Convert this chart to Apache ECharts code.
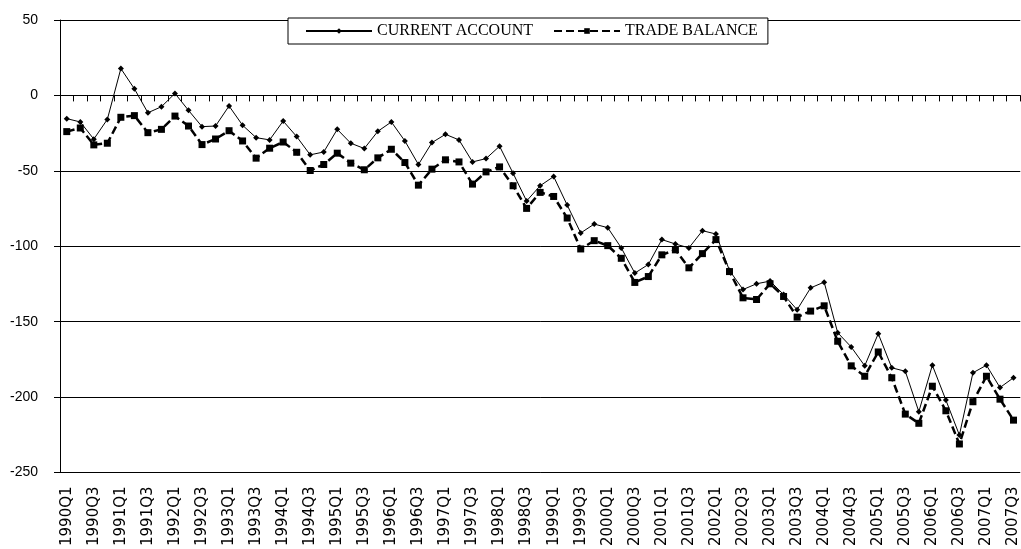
<!DOCTYPE html>
<html>
<head>
<meta charset="utf-8">
<script src="https://cdn.jsdelivr.net/npm/echarts@6/dist/echarts.min.js"></script>
<style>
  html, body { margin: 0; padding: 0; background: #fff; }
  #myChart { width: 1021px; height: 549px; }
</style>
</head>
<body>
<div id="myChart"></div>
<script>
var quarters = [
  '1990Q1','1990Q2','1990Q3','1990Q4','1991Q1','1991Q2','1991Q3','1991Q4',
  '1992Q1','1992Q2','1992Q3','1992Q4','1993Q1','1993Q2','1993Q3','1993Q4',
  '1994Q1','1994Q2','1994Q3','1994Q4','1995Q1','1995Q2','1995Q3','1995Q4',
  '1996Q1','1996Q2','1996Q3','1996Q4','1997Q1','1997Q2','1997Q3','1997Q4',
  '1998Q1','1998Q2','1998Q3','1998Q4','1999Q1','1999Q2','1999Q3','1999Q4',
  '2000Q1','2000Q2','2000Q3','2000Q4','2001Q1','2001Q2','2001Q3','2001Q4',
  '2002Q1','2002Q2','2002Q3','2002Q4','2003Q1','2003Q2','2003Q3','2003Q4',
  '2004Q1','2004Q2','2004Q3','2004Q4','2005Q1','2005Q2','2005Q3','2005Q4',
  '2006Q1','2006Q2','2006Q3','2006Q4','2007Q1','2007Q2','2007Q3'
]

var currentAccount = [
  -15.4, -17.6, -29, -15.9, 17.8, 4.4, -11.5, -7.5, 1.3, -9.9, -20.7, -20.3,
  -7, -19.8, -28, -29.5, -17, -27.3, -39.4, -37.5, -22.5, -31.7, -35.2, -23.8,
  -17.6, -30.2, -45.8, -31.3, -25.8, -29.5, -44.1, -41.9, -33.7, -51.6, -70, -59.9,
  -53.8, -72.7, -91.2, -85.3, -87.7, -101.1, -117.8, -112.1, -95.6, -98.5, -101.1, -89.7,
  -91.9, -116.1, -128.7, -124.9, -123.1, -132, -142.1, -127.6, -123.8, -157.3, -166.8, -179.3,
  -158, -180.6, -182.9, -209.7, -178.9, -202, -225.2, -183.9, -178.9, -193.7, -187.2
]

var tradeBalance = [
  -24, -21.6, -32.8, -31.7, -14.5, -13.4, -24.7, -22.5, -13.7, -20.3, -32.6, -28.9,
  -23.4, -30.2, -41.6, -35, -30.9, -37.7, -49.8, -45.8, -38.3, -44.9, -49.3, -41.4,
  -35.7, -44.5, -59.5, -48.9, -42.7, -44.1, -58.8, -50.7, -47.4, -59.9, -74.9, -64.3,
  -67, -81.3, -101.8, -96.3, -99.6, -108, -124, -120.1, -105.7, -102.4, -114.3, -104.9,
  -95.6, -116.8, -134.2, -135.3, -124.9, -133.3, -147, -143, -139.5, -163, -179.3, -186.2,
  -170.1, -187.2, -211.3, -217.4, -192.8, -209.1, -231.1, -203.1, -186.2, -201.4, -215.3
]

var yMin = -250, yMax = 50, yStep = 50

var myChart = echarts.init(document.getElementById('myChart'))
var option = {
  animation: false,
  backgroundColor: '#fff',
  grid: { left: 60, right: 0, top: 20, bottom: 74 },
  legend: {
    left: 288,
    top: 18,
    padding: [5, 10, 5, 17],
    itemWidth: 66,
    itemHeight: 7,
    itemGap: 20,
    backgroundColor: '#fff',
    borderColor: '#000',
    borderWidth: 1,
    textStyle: { fontFamily: 'Liberation Serif', fontSize: 16, color: '#000' },
    data: ['CURRENT ACCOUNT', 'TRADE BALANCE']
  },
  xAxis: [
    {
      // the line with small ticks sitting on zero
      type: 'category',
      data: quarters,
      boundaryGap: true,
      position: 'bottom',
      axisLine: { show: true, onZero: true, lineStyle: { color: '#000', width: 1 } },
      axisTick: { show: true, interval: 0, length: 6, lineStyle: { color: '#000', width: 1 } },
      axisLabel: { show: false }
    },
    {
      // labels along the bottom
      type: 'category',
      data: quarters,
      boundaryGap: true,
      position: 'bottom',
      axisLine: { show: false, onZero: false },
      axisTick: { show: false },
      axisLabel: {
        interval: 1,
        rotate: 90,
        margin: 14,
        fontSize: 15,
        fontFamily: 'DejaVu Sans',
        color: '#000'
      }
    }
  ],
  yAxis: {
    type: 'value',
    min: yMin,
    max: yMax,
    interval: yStep,
    axisLine: { show: true, onZero: false, lineStyle: { color: '#000' } },
    axisTick: { show: true, length: 6, lineStyle: { color: '#000' } },
    axisLabel: { margin: 22, fontSize: 14, fontFamily: 'Liberation Sans', color: '#000' },
    splitLine: { show: true, lineStyle: { color: '#000', width: 1 } }
  },
  series: [
    {
      name: 'CURRENT ACCOUNT',
      type: 'line',
      data: currentAccount,
      symbol: 'diamond',
      symbolSize: 6,
      showSymbol: true,
      showAllSymbol: true,
      lineStyle: { color: '#000', width: 1 },
      itemStyle: { color: '#000' }
    },
    {
      name: 'TRADE BALANCE',
      type: 'line',
      data: tradeBalance,
      symbol: 'rect',
      symbolSize: 7,
      showSymbol: true,
      showAllSymbol: true,
      lineStyle: { color: '#000', width: 2.5, type: [8, 4] },
      itemStyle: { color: '#000' }
    }
  ]
}
myChart.setOption(option)
</script>
</body>
</html>
